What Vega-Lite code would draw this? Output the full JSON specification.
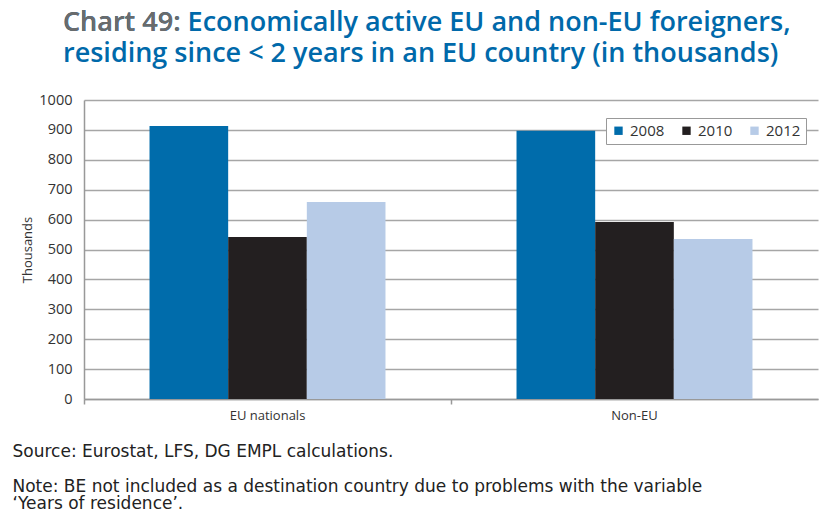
{
  "$schema": "https://vega.github.io/schema/vega-lite/v6.json",
  "width": 734,
  "height": 299,
  "autosize": {"type": "none"},
  "padding": {"left": 84, "top": 100, "right": 6, "bottom": 116},
  "background": "white",
  "title": {
    "text": ["Chart 49: Economically active EU and non-EU foreigners,", "residing since < 2 years in an EU country (in thousands)"],
    "subtitle": "Chart 49:",
    "anchor": "start",
    "align": "left",
    "frame": "group",
    "dx": -21,
    "offset": 24,
    "font": "Open Sans",
    "fontSize": 27,
    "fontWeight": 600,
    "lineHeight": 31,
    "color": "#0069aa",
    "subtitleFont": "Open Sans",
    "subtitleFontSize": 27,
    "subtitleFontWeight": 600,
    "subtitleColor": "#6b6b6b",
    "subtitlePadding": -58
  },
  "data": {
    "values": [
      {"group": "EU nationals", "year": "2008", "value": 913},
      {"group": "EU nationals", "year": "2010", "value": 542},
      {"group": "EU nationals", "year": "2012", "value": 659},
      {"group": "Non-EU", "year": "2008", "value": 897},
      {"group": "Non-EU", "year": "2010", "value": 592},
      {"group": "Non-EU", "year": "2012", "value": 535}
    ]
  },
  "mark": {"type": "bar"},
  "encoding": {
    "x": {
      "field": "group",
      "type": "nominal",
      "sort": ["EU nationals", "Non-EU"],
      "scale": {"paddingInner": 0, "paddingOuter": 0},
      "axis": {
        "labelAngle": 0,
        "labelFont": "Open Sans",
        "labelFontSize": 13,
        "labelColor": "#333333",
        "labelPadding": 5,
        "domainColor": "#999999",
        "domainWidth": 1.5,
        "tickColor": "#999999",
        "tickWidth": 1.5,
        "tickSize": 5,
        "bandPosition": 0,
        "title": ["Source: Eurostat, LFS, DG EMPL calculations.", "\u200b", "Note: BE not included as a destination country due to problems with the variable", "‘Years of residence’."],
        "titleFont": "DejaVu Sans",
        "titleFontSize": 17,
        "titleFontWeight": "normal",
        "titleColor": "#222222",
        "titleAnchor": "start",
        "titleAlign": "left",
        "titleBaseline": "alphabetic",
        "titleX": -72,
        "titleY": 57,
        "titleLineHeight": 17.5
      }
    },
    "xOffset": {
      "field": "year",
      "type": "nominal",
      "scale": {"paddingInner": 0, "paddingOuter": 0.833}
    },
    "y": {
      "field": "value",
      "type": "quantitative",
      "scale": {"domain": [0, 1000], "nice": false},
      "axis": {
        "values": [0, 100, 200, 300, 400, 500, 600, 700, 800, 900, 1000],
        "format": "d",
        "grid": true,
        "gridColor": "#a6a6a6",
        "gridWidth": 1.5,
        "ticks": false,
        "domainColor": "#999999",
        "domainWidth": 1.5,
        "labelFont": "Open Sans",
        "labelFontSize": 14.5,
        "labelColor": "#333333",
        "labelPadding": 12,
        "title": "Thousands",
        "titleFont": "Open Sans",
        "titleFontSize": 13,
        "titleFontWeight": "normal",
        "titleColor": "#333333",
        "titlePadding": 4
      }
    },
    "color": {
      "field": "year",
      "type": "nominal",
      "scale": {"domain": ["2008", "2010", "2012"], "range": ["#006cab", "#231f20", "#b7cbe7"]},
      "legend": {
        "title": null,
        "orient": "none",
        "legendX": 522,
        "legendY": 18,
        "direction": "horizontal",
        "symbolType": "square",
        "symbolSize": 70,
        "symbolStrokeWidth": 0,
        "labelFont": "Open Sans",
        "labelFontSize": 15,
        "labelColor": "#333333",
        "columnPadding": 14,
        "padding": 5,
        "strokeColor": "#999999",
        "fillColor": "white"
      }
    }
  },
  "config": {"view": {"stroke": null}}
}
